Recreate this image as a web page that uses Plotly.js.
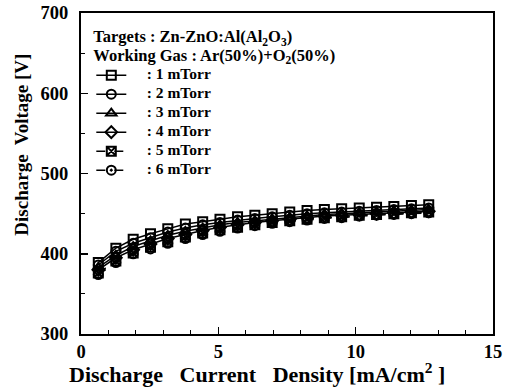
<!DOCTYPE html>
<html>
<head>
<meta charset="utf-8">
<script src="https://cdn.plot.ly/plotly-3.0.1.min.js"></script>
<style>html,body{margin:0;padding:0;background:#fff;}#chart{width:513px;height:387px;}</style>
</head>
<body>
<div id="chart"></div>
<script>
const currentDensity = [0.63, 1.27, 1.9, 2.53, 3.16, 3.8, 4.43, 5.06, 5.7, 6.33, 6.96, 7.6, 8.23, 8.86, 9.49, 10.13, 10.76, 11.39, 12.03, 12.66];
const v1mTorr = [389, 407, 418, 425, 431, 437, 440, 443, 446, 448, 450, 452, 454, 455, 456, 457, 458, 459, 460, 461];
const v2mTorr = [386, 403, 413, 420, 427, 432, 436, 439, 442, 444, 446, 448, 450, 451, 452, 453, 454, 455, 456, 457];
const v3mTorr = [383, 398, 409, 416, 423, 428, 432, 436, 439, 441, 443, 445, 447, 449, 450, 451, 452, 453, 454, 455];
const v4mTorr = [380, 395, 405, 412, 419, 424, 429, 433, 436, 439, 441, 443, 445, 447, 448, 449, 450, 451, 452, 453];
const v5mTorr = [376, 391, 401, 408, 415, 421, 426, 430, 433, 436, 439, 441, 443, 445, 446, 448, 449, 450, 451, 452];
const v6mTorr = [374, 389, 400, 406, 413, 419, 424, 428, 432, 435, 438, 440, 442, 444, 445, 447, 448, 449, 450, 451];
const seriesNames = [": 1 mTorr", ": 2 mTorr", ": 3 mTorr", ": 4 mTorr", ": 5 mTorr", ": 6 mTorr"];
const xTitle = "Discharge\u00a0\u00a0 Current\u00a0\u00a0 Density [mA/cm<sup>2</sup> ]";
const yTitle = "Discharge\u00a0 Voltage [V]";
const headerLine1 = "Targets : Zn-ZnO:Al(Al<sub>2</sub>O<sub>3</sub>)";
const headerLine2 = "Working Gas : Ar(50%)+O<sub>2</sub>(50%)";

const allY = [v1mTorr, v2mTorr, v3mTorr, v4mTorr, v5mTorr, v6mTorr];
const symbols = ["square-open", "circle-open", "triangle-up-open", "diamond-open", "square-x-open", "circle-open-dot"];
const dashes = ["solid", "solid", "solid", "solid", "dash", "dash"];
const FONT = "Liberation Serif, Times New Roman, serif";

const traces = allY.map((ys, i) => ({
  x: currentDensity, y: ys,
  name: '<span style="font-size:15.5px">\u00a0\u00a0\u00a0\u00a0' + seriesNames[i] + '</span>',
  type: "scatter", mode: "lines+markers",
  line: {color: "black", width: 1.5, dash: dashes[i]},
  marker: {symbol: symbols[i], size: 9, color: "black", line: {color: "black", width: 2}}
}));

const axisCommon = {
  showgrid: false, zeroline: false, showline: true, linecolor: "black", linewidth: 2,
  mirror: true, ticks: "inside", ticklen: 7, tickwidth: 1.5, tickcolor: "black",
  tickfont: {family: FONT, size: 18.5, color: "black", weight: "bold"}
};

const layout = {
  width: 513, height: 387,
  margin: {l: 81, r: 20, t: 13, b: 53},
  paper_bgcolor: "white", plot_bgcolor: "white",
  showlegend: true,
  legend: {
    x: 0.025, y: 0.965, xanchor: "left", yanchor: "top", bgcolor: "rgba(0,0,0,0)",
    font: {family: FONT, size: 11, color: "black", weight: "bold"},
    title: {
      text: '<span style="font-size:16.5px">' + headerLine1 + '</span><br><span style="font-size:16.5px">' + headerLine2 + '</span>',
      side: "top", font: {family: FONT, size: 14, color: "black", weight: "bold"}
    },
    tracegroupgap: 0
  },
  xaxis: Object.assign({}, axisCommon, {
    range: [0, 15], dtick: 5, tick0: 0, ticklabelstandoff: 0,
    minor: {dtick: 1, ticks: "inside", ticklen: 4, tickcolor: "black", tickwidth: 1}
  }),
  yaxis: Object.assign({}, axisCommon, {
    range: [300, 700], dtick: 100, tick0: 300, ticklabelstandoff: 7,
    minor: {dtick: 50, ticks: "inside", ticklen: 4, tickcolor: "black", tickwidth: 1}
  }),
  annotations: [{
    text: yTitle, textangle: -90, xref: "paper", yref: "paper",
    x: -0.143, y: 0.59, xanchor: "center", yanchor: "middle", showarrow: false,
    font: {family: FONT, size: 19, color: "black", weight: "bold"}
  }, {
    text: xTitle, xref: "paper", yref: "paper",
    x: 0.427, y: -0.12, xanchor: "center", yanchor: "middle", showarrow: false,
    font: {family: FONT, size: 22, color: "black", weight: "bold"}
  }]
};

Plotly.newPlot("chart", traces, layout, {displayModeBar: false, staticPlot: true});
</script>
</body>
</html>
